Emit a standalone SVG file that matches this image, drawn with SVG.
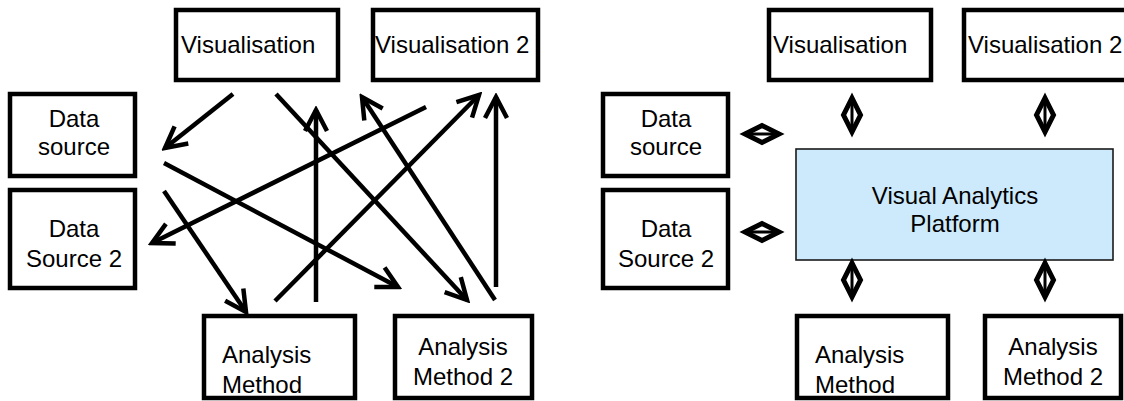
<svg xmlns="http://www.w3.org/2000/svg" width="1124" height="401" viewBox="0 0 1124 401">
  <style>
    .box { fill: #fff; stroke: #000; stroke-width: 4.5; }
    .platform { fill: #cdeafc; stroke: #1a1a1a; stroke-width: 1.6; }
    .lbl { font-family: "Liberation Sans", Arial, sans-serif; font-size: 24px; fill: #000; }
    .mid { text-anchor: middle; }
    .arrow { stroke: #000; stroke-width: 4.5; fill: none; marker-end: url(#head); }
    .dbl { fill: #fff; stroke: #000; stroke-width: 5; stroke-linejoin: miter; stroke-miterlimit: 10; }
  </style>
  <defs>
    <marker id="head" markerUnits="userSpaceOnUse" viewBox="0 0 30 30" markerWidth="30" markerHeight="30" refX="26" refY="15" orient="auto">
      <path d="M5,4 L26,15 L5,26" fill="none" stroke="#000" stroke-width="4.5" stroke-linejoin="miter"/>
    </marker>
    <!-- double-headed link, horizontal and vertical variants -->
    <g id="dbl-h">
      <path class="dbl" d="M-17,0 L0,-8.5 L17,0 L0,8.5 Z"/>
      <line x1="-17" y1="0" x2="17" y2="0" stroke="#000" stroke-width="3"/>
    </g>
    <g id="dbl-v">
      <path class="dbl" d="M0,-17 L8.5,0 L0,17 L-8.5,0 Z"/>
      <line x1="0" y1="-17" x2="0" y2="17" stroke="#000" stroke-width="3"/>
    </g>
  </defs>

  <rect width="1124" height="401" fill="#fff"/>

  <!-- ===== Left: point-to-point connections ===== -->
  <g id="l-vis1">
    <rect class="box" x="176" y="10" width="162" height="70"/>
    <text class="lbl" x="181" y="53">Visualisation</text>
  </g>
  <g id="l-vis2">
    <rect class="box" x="373" y="10" width="165" height="70"/>
    <text class="lbl" x="375" y="53">Visualisation 2</text>
  </g>
  <g id="l-ds1">
    <rect class="box" x="10" y="94" width="125" height="82"/>
    <text class="lbl mid" x="74" y="127">Data</text>
    <text class="lbl mid" x="74" y="155">source</text>
  </g>
  <g id="l-ds2">
    <rect class="box" x="10" y="190" width="125" height="98"/>
    <text class="lbl mid" x="74" y="237">Data</text>
    <text class="lbl mid" x="74" y="267">Source 2</text>
  </g>
  <g id="l-am1">
    <rect class="box" x="204" y="316" width="151" height="82"/>
    <text class="lbl" x="222" y="363">Analysis</text>
    <text class="lbl" x="222" y="393">Method</text>
  </g>
  <g id="l-am2">
    <rect class="box" x="395" y="316" width="137" height="82"/>
    <text class="lbl mid" x="463" y="355">Analysis</text>
    <text class="lbl mid" x="463" y="385">Method 2</text>
  </g>

  <g id="l-connectors">
    <line class="arrow" x1="233" y1="94" x2="165" y2="148"/>
    <line class="arrow" x1="276" y1="94" x2="467" y2="300"/>
    <line class="arrow" x1="316" y1="302" x2="316" y2="110"/>
    <line class="arrow" x1="495" y1="300" x2="362" y2="97"/>
    <line class="arrow" x1="426" y1="107" x2="152" y2="243"/>
    <line class="arrow" x1="275" y1="301" x2="479" y2="95"/>
    <line class="arrow" x1="496" y1="287" x2="496" y2="97"/>
    <line class="arrow" x1="164" y1="163" x2="398" y2="287"/>
    <line class="arrow" x1="164" y1="191" x2="246" y2="312"/>
  </g>

  <!-- ===== Right: hub through the platform ===== -->
  <g id="r-vis1">
    <rect class="box" x="769" y="10" width="162" height="70"/>
    <text class="lbl" x="773" y="53">Visualisation</text>
  </g>
  <g id="r-vis2">
    <rect class="box" x="964" y="10" width="165" height="70"/>
    <text class="lbl" x="968" y="53">Visualisation 2</text>
  </g>
  <g id="r-ds1">
    <rect class="box" x="603" y="94" width="125" height="82"/>
    <text class="lbl mid" x="666" y="127">Data</text>
    <text class="lbl mid" x="666" y="155">source</text>
  </g>
  <g id="r-ds2">
    <rect class="box" x="603" y="190" width="125" height="98"/>
    <text class="lbl mid" x="666" y="237">Data</text>
    <text class="lbl mid" x="666" y="267">Source 2</text>
  </g>
  <g id="r-platform">
    <rect class="platform" x="796" y="149" width="317" height="111"/>
    <text class="lbl mid" x="955" y="204">Visual Analytics</text>
    <text class="lbl mid" x="955" y="232">Platform</text>
  </g>
  <g id="r-am1">
    <rect class="box" x="797" y="316" width="151" height="82"/>
    <text class="lbl" x="815" y="363">Analysis</text>
    <text class="lbl" x="815" y="393">Method</text>
  </g>
  <g id="r-am2">
    <rect class="box" x="985" y="316" width="136" height="82"/>
    <text class="lbl mid" x="1053" y="355">Analysis</text>
    <text class="lbl mid" x="1053" y="385">Method 2</text>
  </g>

  <g id="r-connectors">
    <use href="#dbl-h" x="762" y="134"/>
    <use href="#dbl-h" x="762" y="232"/>
    <use href="#dbl-v" x="852" y="115"/>
    <use href="#dbl-v" x="1045" y="115"/>
    <use href="#dbl-v" x="852" y="280"/>
    <use href="#dbl-v" x="1045" y="280"/>
  </g>
</svg>
